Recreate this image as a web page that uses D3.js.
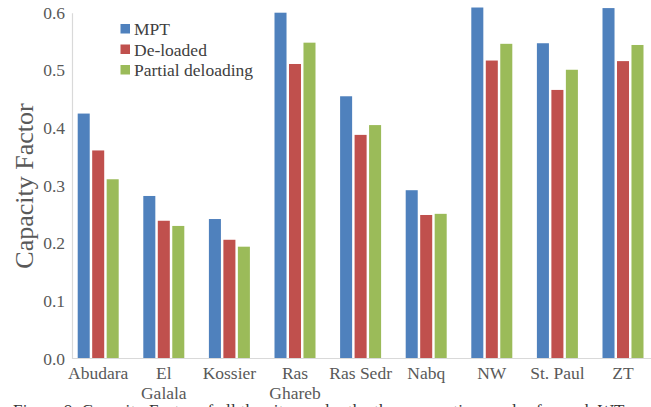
<!DOCTYPE html>
<html>
<head>
<meta charset="utf-8">
<script src="https://cdn.jsdelivr.net/npm/d3@7"></script>
<style>
  html, body { margin: 0; padding: 0; background: #fff; }
  svg { display: block; }
  svg text { font-family: "Liberation Serif", "Times New Roman", Times, "DejaVu Serif", serif !important; }
</style>
</head>
<body>
<svg id="chart" width="651" height="407" font-family="Liberation Serif, Times New Roman, serif"></svg>
<script>
const categories = ["Abudara", "El\nGalala", "Kossier", "Ras\nGhareb", "Ras Sedr", "Nabq", "NW", "St. Paul", "ZT"];
const seriesNames = ["MPT", "De-loaded", "Partial deloading"];
const mpt      = [0.425, 0.282, 0.242, 0.600, 0.455, 0.292, 0.609, 0.547, 0.608];
const deloaded = [0.361, 0.239, 0.206, 0.511, 0.388, 0.249, 0.517, 0.466, 0.516];
const partial  = [0.311, 0.230, 0.194, 0.548, 0.405, 0.251, 0.546, 0.501, 0.544];
const yTicks = [0.0, 0.1, 0.2, 0.3, 0.4, 0.5, 0.6];
const colors = ["#4F81BD", "#C0504D", "#9BBB59"];
const yTitle = "Capacity Factor";
const caption = "Figure 8.    Capacity Factor of all the sites under the three operating modes for each WT";

const FONT = "'Liberation Serif', 'Times New Roman', Times, serif";
const seriesValues = [mpt, deloaded, partial];
const svg = d3.select("#chart");
const W = 651, H = 407;
const axisX = 72;

const y = d3.scaleLinear().domain([0, 0.6]).range([358.5, 12.7]);
const x = d3.scaleBand().domain(categories).range([65.4, 655.8]).paddingInner(0).paddingOuter(0);
const xs = d3.scaleBand().domain(seriesNames).range([-20.5, 20.5]).paddingInner(0.17);

// bars
seriesNames.forEach((s, si) => {
  svg.append("g").selectAll("rect")
    .data(categories.map((c, i) => ({c, v: seriesValues[si][i]})))
    .join("rect")
    .attr("x", d => x(d.c) + x.bandwidth() / 2 + xs(s))
    .attr("width", xs.bandwidth())
    .attr("y", d => y(d.v))
    .attr("height", d => y(0) - y(d.v))
    .attr("fill", colors[si]);
});

// y axis
const yAxis = svg.append("g")
  .attr("transform", `translate(${axisX},0)`)
  .call(d3.axisLeft(y).tickValues(yTicks).tickFormat(d3.format(".1f")).tickSize(0).tickPadding(7));
yAxis.attr("font-family", FONT);
yAxis.select(".domain").attr("stroke", "#d9d9d9").attr("stroke-width", 1.2);
yAxis.selectAll("text")
  .attr("fill", "#595959")
  .attr("font-family", FONT)
  .style("font-size", "17.5px");

// x axis
const xAxis = svg.append("g")
  .attr("transform", `translate(0,${y(0)})`)
  .call(d3.axisBottom(x).tickSize(0).tickFormat(""));
xAxis.attr("font-family", FONT);
xAxis.select(".domain").remove();
xAxis.append("line")
  .attr("x1", axisX).attr("x2", W)
  .attr("y1", 0).attr("y2", 0)
  .attr("stroke", "#d9d9d9").attr("stroke-width", 1.2);
xAxis.selectAll(".tick text").each(function(d) {
  const t = d3.select(this);
  t.text(null)
    .attr("fill", "#595959")
    .attr("font-family", FONT)
    .attr("y", 0)
    .attr("dy", null)
    .style("font-size", "17.5px");
  d.split("\n").forEach((line, li) => {
    t.append("tspan").attr("x", 0).attr("y", 20.5 + li * 20).text(line);
  });
});

// y title
svg.append("text")
  .attr("transform", "translate(33,186) rotate(-90)")
  .attr("text-anchor", "middle")
  .attr("fill", "#595959")
  .attr("font-family", FONT)
  .style("font-size", "26px")
  .text(yTitle);

// legend
const legend = svg.append("g");
seriesNames.forEach((s, i) => {
  const cy = 29 + i * 20.5;
  legend.append("rect")
    .attr("x", 120.5).attr("y", cy - 5)
    .attr("width", 9.5).attr("height", 9.5)
    .attr("fill", colors[i]);
  legend.append("text")
    .attr("x", 134).attr("y", cy + 6)
    .attr("fill", "#404040")
    .attr("font-family", FONT)
    .style("font-size", "17.5px")
    .text(s);
});

// caption (cut off at bottom edge, as in the source)
svg.append("text")
  .attr("x", 13).attr("y", 415.5)
  .attr("fill", "#333")
  .attr("font-family", FONT)
  .style("font-size", "17px")
  .style("letter-spacing", "0.3px")
  .text(caption);
</script>
</body>
</html>
